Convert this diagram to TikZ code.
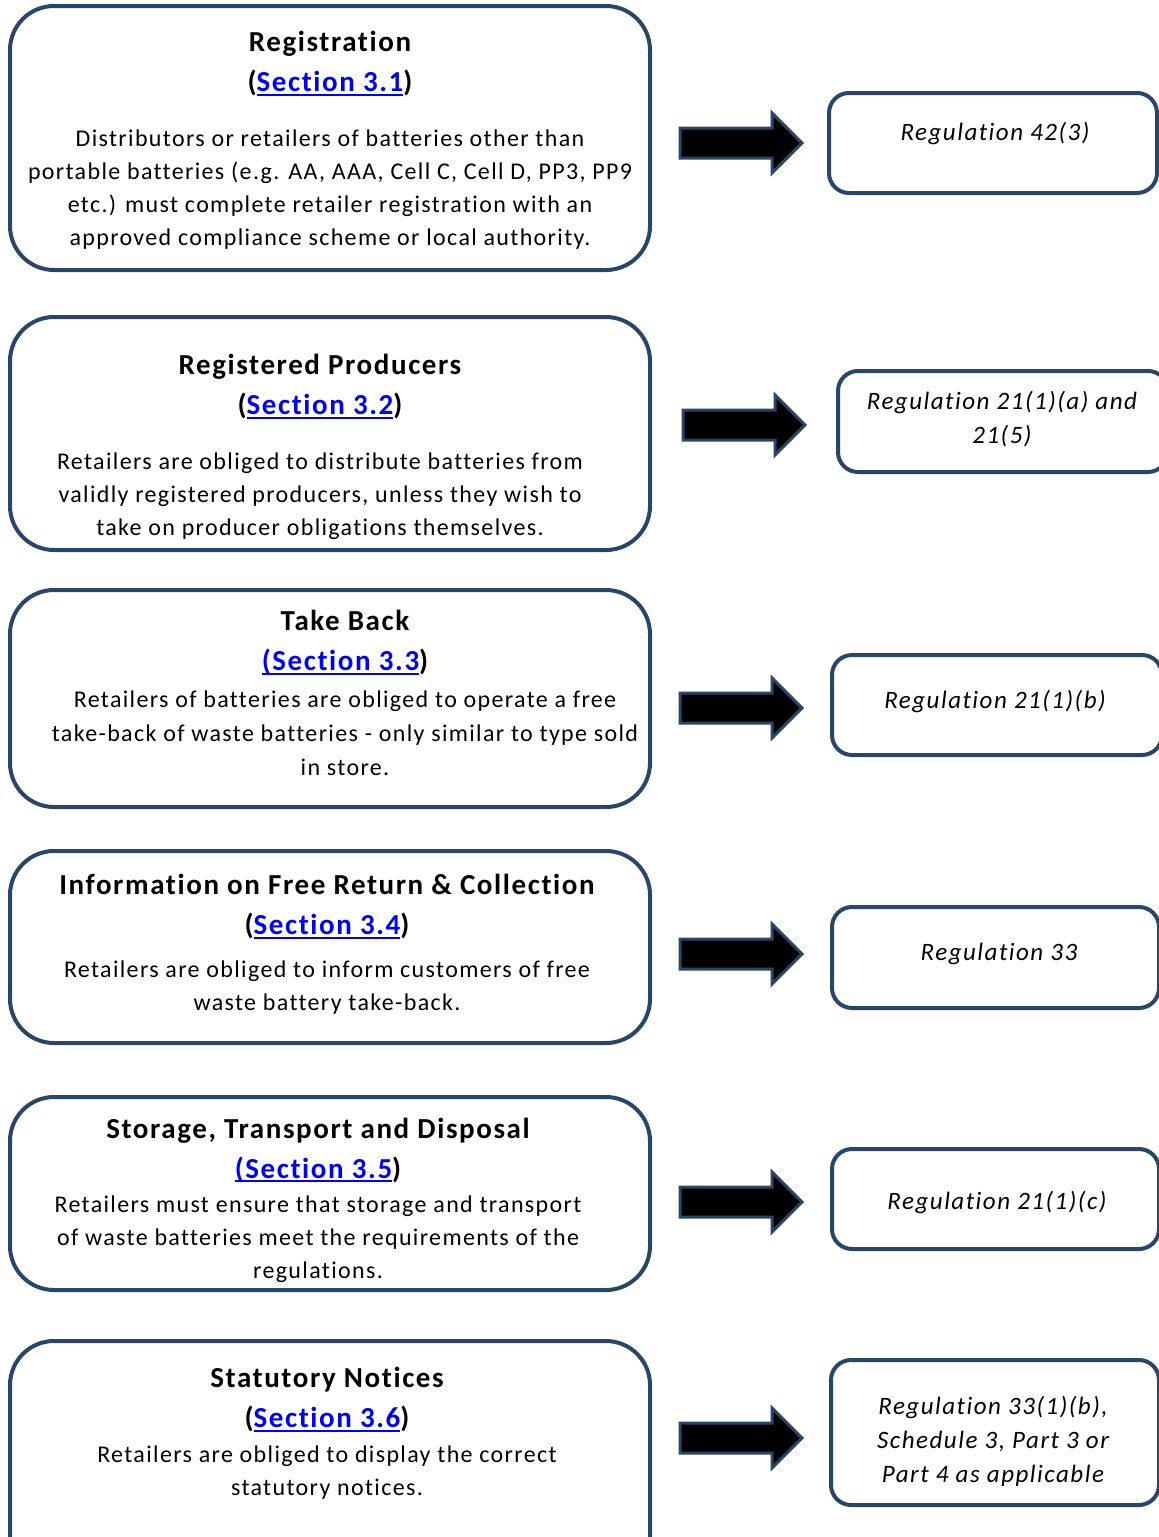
\documentclass[tikz,border=0pt]{standalone}
\usepackage{fontspec}
\setmainfont{Carlito}[Ligatures=NoCommon]
\usetikzlibrary{positioning}
\definecolor{navy}{HTML}{2B4566}
\definecolor{linkblue}{HTML}{0000FF}
\newcommand{\sect}[1]{\textcolor{linkblue}{\setbox0=\hbox{#1}\rlap{\rule[-4pt]{\wd0}{2.4pt}}\box0}}
\tikzset{
  lbox/.style={draw=navy, line width=4pt, rounded corners=44pt, fill=white},
  rbox/.style={draw=navy, line width=4pt, rounded corners=20pt, fill=white},
  ttl/.style={font=\fontsize{29}{40}\selectfont\bfseries\addfontfeature{LetterSpace=5.5}, align=center, inner sep=0pt},
  body/.style={font=\fontsize{24}{33}\selectfont\addfontfeature{LetterSpace=5.6}, align=center, inner sep=0pt},
  reg/.style={font=\fontsize{25}{34}\selectfont\itshape\addfontfeature{LetterSpace=6}, align=center, inner sep=0pt},
  blockarrow/.pic={
    \draw[fill=black, draw=navy, line width=3pt, line join=miter]
      (0,-15) -- (92,-15) -- (92,-30) -- (122,0) -- (92,30) -- (92,15) -- (0,15) -- cycle;
  }
}
\begin{document}
\begin{tikzpicture}[x=1pt, y=-1pt]
\useasboundingbox (0,0) rectangle (1159,1537);
\clip (0,0) rectangle (1159,1537);

% left boxes
\node[lbox, minimum width=640pt, minimum height=264pt] (b1) at (330,138) {};
\node[lbox, minimum width=640pt, minimum height=233pt] (b2) at (330,433.5) {};
\node[lbox, minimum width=640pt, minimum height=217pt] (b3) at (330,698.5) {};
\node[lbox, minimum width=640pt, minimum height=192pt] (b4) at (330,947) {};
\node[lbox, minimum width=640pt, minimum height=193pt] (b5) at (330,1193.5) {};
\node[lbox, minimum width=640pt, minimum height=240pt] (b6) at (330,1461) {};

% right boxes
\node[rbox, minimum width=328pt, minimum height=100pt] (r1) at (993,143) {};
\node[rbox, minimum width=330pt, minimum height=101pt] (r2) at (1003,421.5) {};
\node[rbox, minimum width=330pt, minimum height=100pt] (r3) at (997,705) {};
\node[rbox, minimum width=327pt, minimum height=101pt] (r4) at (995.5,957.5) {};
\node[rbox, minimum width=327pt, minimum height=100pt] (r5) at (995.5,1199) {};
\node[rbox, minimum width=328pt, minimum height=145pt] (r6) at (995,1432.5) {};

% arrows
\pic at (680,143) {blockarrow};
\pic at (683,425) {blockarrow};
\pic at (680,708) {blockarrow};
\pic at (680,954) {blockarrow};
\pic at (680,1202) {blockarrow};
\pic at (680,1438) {blockarrow};

% box 1 text
\node[ttl] (t1) at (330,64) {Registration\\(\sect{Section 3.1})};
\node[body] (d1) at (330,190) {Distributors or retailers of batteries other than\\portable batteries (e.g. AA, AAA, Cell C, Cell D, PP3, PP9\\etc.) must complete retailer registration with an\\approved compliance scheme or local authority.};

% box 2
\node[ttl] (t2) at (320,387) {Registered Producers\\(\sect{Section 3.2})};
\node[body] (d2) at (320,496) {Retailers are obliged to distribute batteries from\\validly registered producers, unless they wish to\\take on producer obligations themselves.};

% box 3
\node[ttl] (t3) at (345,643) {Take Back\\\sect{(Section 3.3})};
\node[body, font=\fontsize{24}{34}\selectfont\addfontfeature{LetterSpace=5.6}] (d3) at (345,733) {Retailers of batteries are obliged to operate a free\\take-back of waste batteries - only similar to type sold\\in store.};

% box 4
\node[ttl] (t4) at (327,907) {Information on Free Return \& Collection\\(\sect{Section 3.4})};
\node[body] (d4) at (327,987.5) {Retailers are obliged to inform customers of free\\waste battery take-back.};

% box 5
\node[ttl] (t5) at (318,1150.5) {Storage, Transport and Disposal\\\sect{(Section 3.5})};
\node[body] (d5) at (318,1239.5) {Retailers must ensure that storage and transport\\of waste batteries meet the requirements of the\\regulations.};

% box 6
\node[ttl] (t6) at (327,1400) {Statutory Notices\\(\sect{Section 3.6})};
\node[body] (d6) at (327,1472.5) {Retailers are obliged to display the correct\\statutory notices.};

% right text
\node[reg] (g1) at (995,134) {Regulation 42(3)};
\node[reg] (g2) at (1002,419.5) {Regulation 21(1)(a) and\\21(5)};
\node[reg] (g3) at (995,702) {Regulation 21(1)(b)};
\node[reg] (g4) at (999,954) {Regulation 33};
\node[reg] (g5) at (997,1202) {Regulation 21(1)(c)};
\node[reg] (g6) at (993,1441) {Regulation 33(1)(b),\\Schedule 3, Part 3 or\\Part 4 as applicable};
\end{tikzpicture}
\end{document}
